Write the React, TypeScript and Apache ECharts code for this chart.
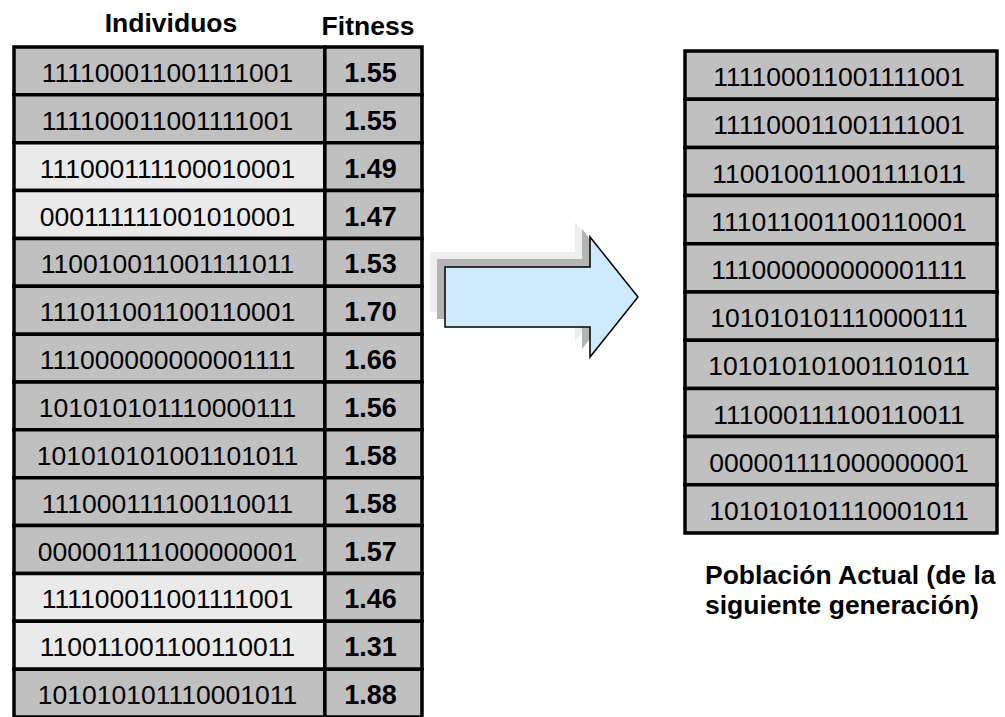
import React, { useEffect, useRef } from "react";
import * as echarts from "echarts";

// ---- data ----
const individuals = [
  "111100011001111001",
  "111100011001111001",
  "111000111100010001",
  "000111111001010001",
  "110010011001111011",
  "111011001100110001",
  "111000000000001111",
  "101010101110000111",
  "101010101001101011",
  "111000111100110011",
  "000001111000000001",
  "111100011001111001",
  "110011001100110011",
  "101010101110001011",
];
const fitness = [1.55, 1.55, 1.49, 1.47, 1.53, 1.7, 1.66, 1.56, 1.58, 1.58, 1.57, 1.46, 1.31, 1.88];
const survives = [true, true, false, false, true, true, true, true, true, true, true, false, false, true];
const nextGeneration = [
  "111100011001111001",
  "111100011001111001",
  "110010011001111011",
  "111011001100110001",
  "111000000000001111",
  "101010101110000111",
  "101010101001101011",
  "111000111100110011",
  "000001111000000001",
  "101010101110001011",
];
const headers = ["Individuos", "Fitness"];
const caption = ["Población Actual (de la", "siguiente generación)"];

// ---- layout / style constants ----
const FONT = '"Liberation Sans", Arial, sans-serif';
const SPLIT = 0.762; // fraction of left table width taken by the "Individuos" column
const DARK = "#c0c0c0";
const LIGHT = "#eaeaea";
const BORDER = 3.5;

function txt(text: string, x: number, y: number, bold: boolean, size: number, align = "center") {
  return {
    type: "text",
    style: {
      text,
      x,
      y,
      font: `${bold ? "bold " : ""}${size}px ${FONT}`,
      fill: "#000",
      align,
      verticalAlign: "middle",
      textAlign: align,
      textVerticalAlign: "middle",
    },
  };
}

const arrowPts = [
  [445, 267],
  [590, 267],
  [590, 237],
  [638, 297],
  [590, 357],
  [590, 327],
  [445, 327],
];
const shift = (dx: number, dy: number) => arrowPts.map(([x, y]) => [x + dx, y + dy]);

export default function App() {
  const ref = useRef<HTMLDivElement>(null);
  useEffect(() => {
    if (!ref.current) return;
    const chart = echarts.init(ref.current, null, { renderer: "svg" });
    const option: any = {
      animation: false,
      backgroundColor: "#fff",
      grid: [
        { left: 14, top: 47, width: 408, height: 673.4 },
        { left: 685, top: 51, width: 312, height: 482 },
      ],
      xAxis: [
        { gridIndex: 0, type: "value", min: 0, max: 1, show: false },
        { gridIndex: 1, type: "value", min: 0, max: 1, show: false },
      ],
      yAxis: [
        { gridIndex: 0, type: "value", min: 0, max: individuals.length, inverse: true, show: false },
        { gridIndex: 1, type: "value", min: 0, max: nextGeneration.length, inverse: true, show: false },
      ],
      graphic: [
        { type: "polygon", shape: { points: shift(-15, -15) }, style: { fill: "#eeeeee" }, z: 1 },
        { type: "polygon", shape: { points: shift(-8, -8) }, style: { fill: "#b4b4b4" }, z: 2 },
        {
          type: "polygon",
          shape: { points: arrowPts },
          style: { fill: "#cdebfd", stroke: "#000", lineWidth: 1.5 },
          z: 3,
        },
        { ...txt(headers[0], 171, 23, true, 26.5), z: 5 },
        { ...txt(headers[1], 368, 26, true, 26.5), z: 5 },
        { ...txt(caption[0], 705, 575, true, 26.5, "left"), z: 5 },
        { ...txt(caption[1], 705, 605, true, 26.5, "left"), z: 5 },
      ],
      series: [
        {
          type: "custom",
          xAxisIndex: 0,
          yAxisIndex: 0,
          clip: false,
          data: fitness.map((f, i) => [i, f]),
          renderItem: (params: any, api: any) => {
            const i = api.value(0);
            const f = api.value(1);
            const a = api.coord([0, i]);
            const b = api.coord([SPLIT, i + 1]);
            const c = api.coord([1, i + 1]);
            const h = b[1] - a[1];
            const cy = a[1] + h / 2 + 2;
            return {
              type: "group",
              children: [
                {
                  type: "rect",
                  shape: { x: a[0], y: a[1], width: b[0] - a[0], height: h },
                  style: { fill: survives[i] ? DARK : LIGHT, stroke: "#000", lineWidth: BORDER },
                },
                {
                  type: "rect",
                  shape: { x: b[0], y: a[1], width: c[0] - b[0], height: h },
                  style: { fill: DARK, stroke: "#000", lineWidth: BORDER },
                },
                txt(individuals[i], (a[0] + b[0]) / 2 - 2, cy, false, 26.5),
                txt(f.toFixed(2), (b[0] + c[0]) / 2 - 3, cy, true, 27),
              ],
            };
          },
        },
        {
          type: "custom",
          xAxisIndex: 1,
          yAxisIndex: 1,
          clip: false,
          data: nextGeneration.map((_, i) => [i, i]),
          renderItem: (params: any, api: any) => {
            const i = api.value(0);
            const a = api.coord([0, i]);
            const c = api.coord([1, i + 1]);
            const h = c[1] - a[1];
            return {
              type: "group",
              children: [
                {
                  type: "rect",
                  shape: { x: a[0], y: a[1], width: c[0] - a[0], height: h },
                  style: { fill: DARK, stroke: "#000", lineWidth: BORDER },
                },
                txt(nextGeneration[i], (a[0] + c[0]) / 2 - 2, a[1] + h / 2 + 2, false, 26.5),
              ],
            };
          },
        },
      ],
    };
    chart.setOption(option);
    return () => chart.dispose();
  }, []);
  return (
    <div
      ref={ref}
      style={{ position: "fixed", left: 0, top: 0, width: 1005, height: 717, background: "#fff" }}
    />
  );
}
